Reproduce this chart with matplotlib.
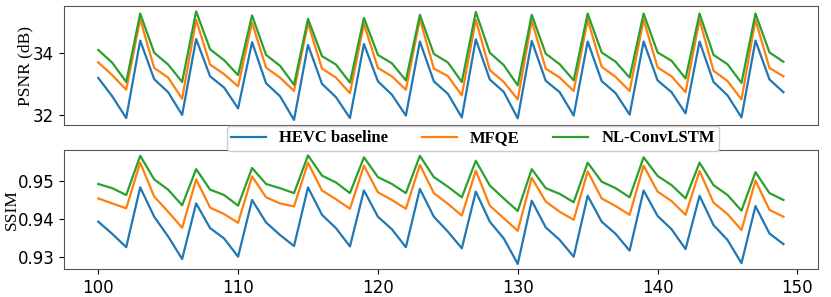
import numpy as np
import matplotlib
matplotlib.use('Agg')
import matplotlib.pyplot as plt

frames = np.arange(100, 150)

psnr_hevc = [33.19, 32.60, 31.90, 34.39, 33.15, 32.73, 32.00, 34.44, 33.24, 32.88,
             32.21, 34.34, 33.02, 32.60, 31.84, 34.25, 33.00, 32.57, 31.90, 34.28,
             33.08, 32.65, 31.98, 34.36, 33.08, 32.68, 31.92, 34.43, 33.14, 32.74,
             31.89, 34.38, 33.10, 32.73, 31.98, 34.36, 33.09, 32.70, 32.01, 34.36,
             33.11, 32.73, 32.05, 34.36, 33.06, 32.63, 31.92, 34.39, 33.14, 32.73]
psnr_mfqe = [33.69, 33.28, 32.81, 35.08, 33.51, 33.20, 32.52, 35.06, 33.62, 33.31,
             32.92, 34.97, 33.52, 33.20, 32.77, 34.95, 33.49, 33.20, 32.70, 34.93,
             33.51, 33.24, 32.81, 35.08, 33.49, 33.25, 32.63, 35.06, 33.44, 33.06,
             32.50, 35.03, 33.49, 33.20, 32.77, 35.06, 33.55, 33.22, 32.77, 35.06,
             33.53, 33.24, 32.73, 35.06, 33.42, 33.09, 32.50, 35.06, 33.51, 33.24]
psnr_nl = [34.09, 33.68, 33.06, 35.26, 34.00, 33.62, 33.06, 35.33, 34.11, 33.76,
           33.28, 35.20, 33.93, 33.58, 32.97, 35.09, 33.89, 33.62, 33.04, 35.12,
           33.93, 33.66, 33.11, 35.22, 33.96, 33.69, 33.06, 35.31, 34.00, 33.60,
           32.95, 35.22, 33.97, 33.63, 33.11, 35.26, 34.01, 33.71, 33.20, 35.26,
           34.01, 33.74, 33.17, 35.26, 33.93, 33.63, 33.03, 35.26, 34.01, 33.71]

ssim_hevc = [.9392, .9360, .9325, .9482, .9405, .9353, .9294, .9440, .9375, .9348,
             .9300, .9449, .9390, .9357, .9328, .9482, .9410, .9375, .9327, .9474,
             .9405, .9372, .9325, .9478, .9405, .9366, .9322, .9471, .9392, .9348,
             .9281, .9447, .9377, .9344, .9300, .9460, .9392, .9360, .9316, .9474,
             .9407, .9372, .9320, .9460, .9383, .9344, .9283, .9433, .9361, .9333]
ssim_mfqe = [.9453, .9440, .9427, .9547, .9458, .9418, .9376, .9503, .9429, .9412,
             .9389, .9511, .9456, .9440, .9432, .9547, .9474, .9451, .9426, .9539,
             .9469, .9449, .9426, .9541, .9467, .9439, .9408, .9526, .9434, .9401,
             .9368, .9507, .9445, .9418, .9397, .9524, .9453, .9433, .9410, .9539,
             .9471, .9446, .9410, .9525, .9442, .9412, .9370, .9500, .9423, .9405]
ssim_nl = [.9491, .9480, .9462, .9565, .9503, .9476, .9435, .9530, .9476, .9462,
           .9434, .9533, .9491, .9480, .9467, .9566, .9513, .9495, .9467, .9561,
           .9509, .9491, .9467, .9565, .9509, .9484, .9456, .9552, .9487, .9453,
           .9420, .9530, .9480, .9465, .9443, .9547, .9497, .9480, .9456, .9561,
           .9512, .9488, .9453, .9547, .9488, .9462, .9421, .9522, .9467, .9449]

labels = ['HEVC baseline', 'MFQE', 'NL-ConvLSTM']
serif = 'Liberation Serif'

fig = plt.figure(figsize=(8.31, 2.97), dpi=100)
ax1 = fig.add_axes([0.077, 0.578, 0.907, 0.402])
ax2 = fig.add_axes([0.077, 0.093, 0.907, 0.402], sharex=ax1)

for ax, series in [(ax1, (psnr_hevc, psnr_mfqe, psnr_nl)),
                   (ax2, (ssim_hevc, ssim_mfqe, ssim_nl))]:
    for s, lab in zip(series, labels):
        ax.plot(frames, s, lw=1.6, label=lab)
    ax.tick_params(labelsize=12)
    for sp in ax.spines.values():
        sp.set_color('#555555')

ax1.set_yticks([32, 34])
ax2.set_yticks([0.93, 0.94, 0.95])
ax2.set_xticks([100, 110, 120, 130, 140, 150])
ax1.tick_params(labelbottom=False, bottom=False)

ax1.set_ylabel('PSNR (dB)', fontsize=12.5, family=serif)
ax2.set_ylabel('SSIM', fontsize=12.5, family=serif)
ax1.yaxis.set_label_coords(-0.04, 0.5)
ax2.yaxis.set_label_coords(-0.058, 0.5)

h, l = ax1.get_legend_handles_labels()
fig.legend(h, l, loc='center', bbox_to_anchor=(473 / 831, 1 - 138.5 / 297),
           ncol=3, prop={'family': serif, 'weight': 'bold', 'size': 12},
           columnspacing=2.0, handlelength=2.1, borderpad=0.25, framealpha=1)

fig.savefig('out.png', dpi=100)
